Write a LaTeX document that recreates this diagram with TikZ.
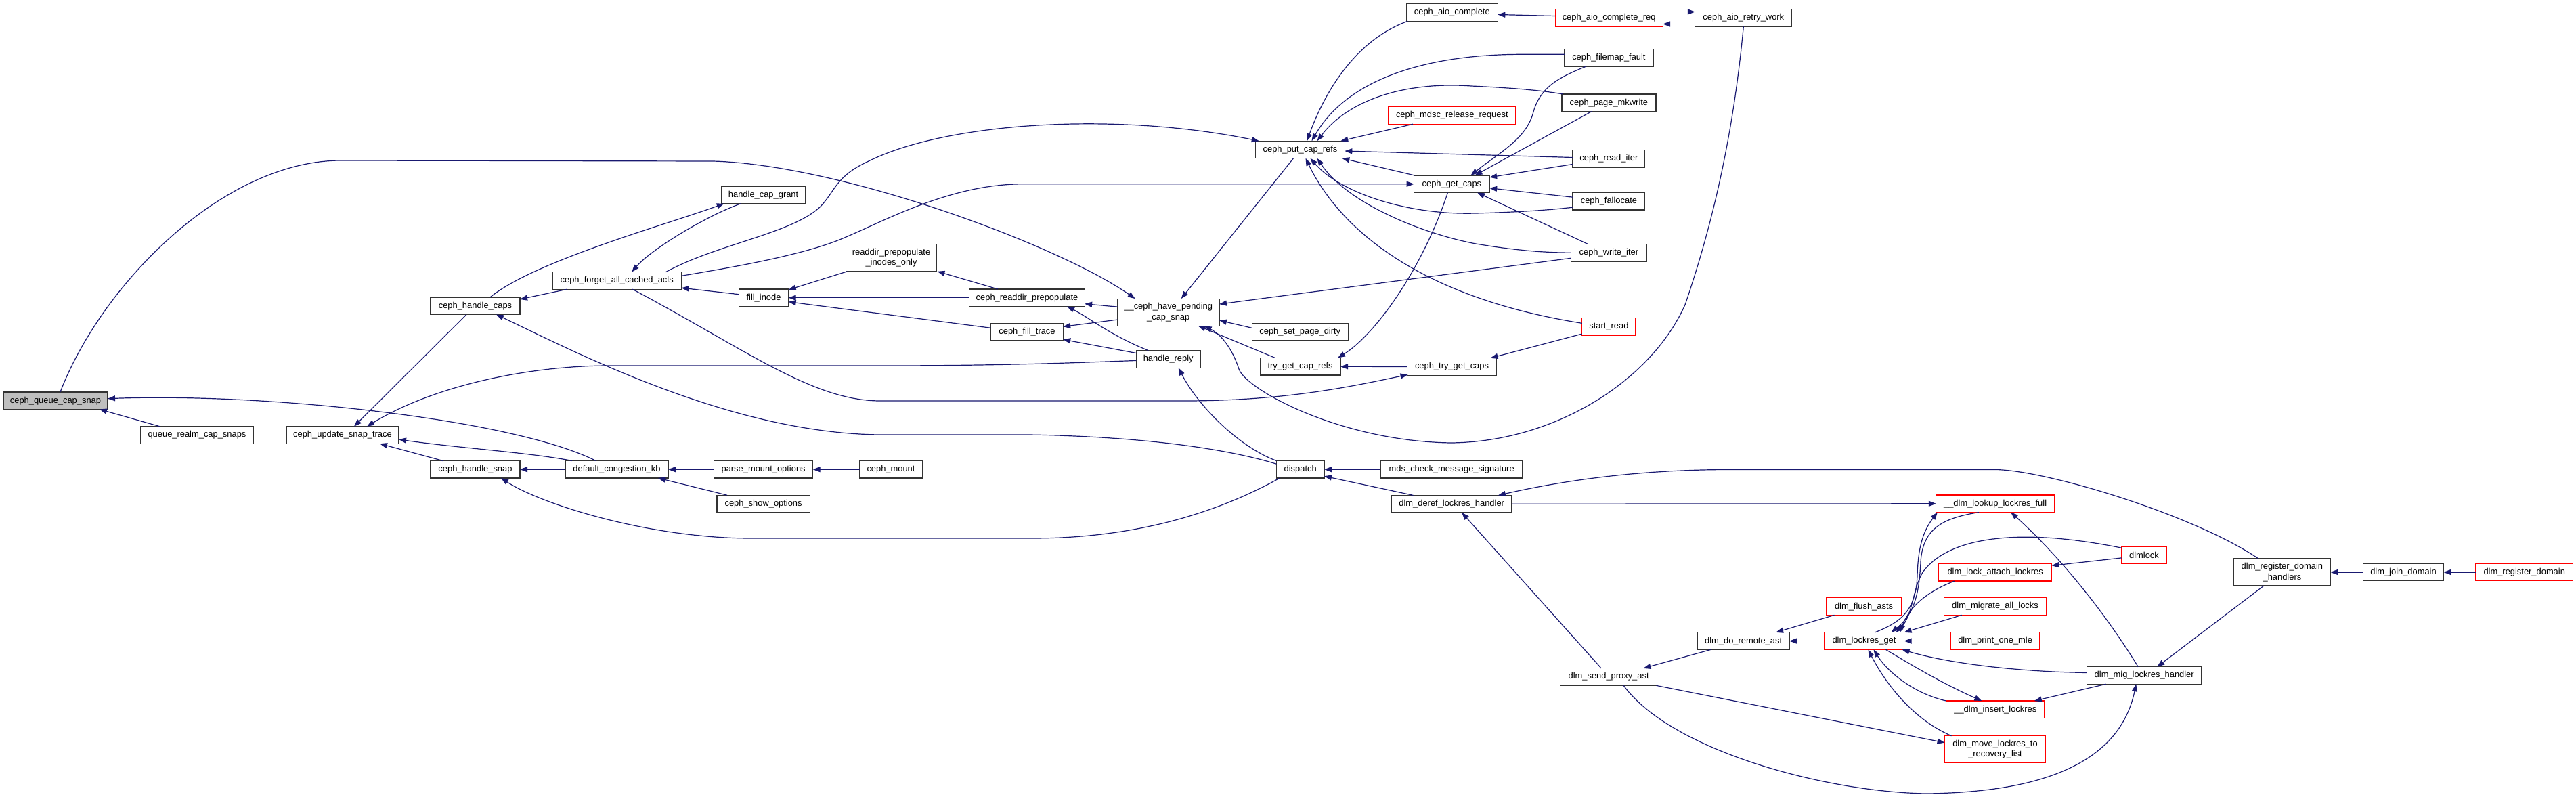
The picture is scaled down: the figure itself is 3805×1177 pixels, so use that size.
\documentclass[tikz,border=0pt]{standalone}
\usepackage{fontspec}
\setmainfont{Liberation Sans}
\usetikzlibrary{arrows.meta}
\definecolor{edgeblue}{HTML}{191970}
\definecolor{nodegray}{HTML}{BFBFBF}
\begin{document}
\begin{tikzpicture}[x=1pt,y=-1pt,
  box/.style={draw=black!80, line width=1.2pt, fill=white, rectangle, inner sep=0pt, outer sep=0pt,
    minimum height=25.5pt, align=center, font=\fontsize{12.9}{15.3}\selectfont},
  redbox/.style={box, draw=red},
  tallbox/.style={minimum height=40pt},
  e/.style={draw=edgeblue, line width=1.2pt, {Triangle[length=11pt,width=8pt]}-}]
\useasboundingbox (0,0) rectangle (3805,1177);
% ---------------- nodes ----------------
\node[box, fill=nodegray, minimum width=154pt] (qcs) at (82,591.7) {ceph\_queue\_cap\_snap};
\node[box, minimum width=166pt] (qrcs) at (291,642.5) {queue\_realm\_cap\_snaps};
\node[box, minimum width=166pt] (ust) at (506,642.5) {ceph\_update\_snap\_trace};
\node[box, minimum width=132pt] (hcaps) at (702,451.7) {ceph\_handle\_caps};
\node[box, minimum width=132pt] (hsnap) at (702,693.2) {ceph\_handle\_snap};
\node[box, minimum width=152pt] (dck) at (911,693.2) {default\_congestion\_kb};
\node[box, minimum width=190.5pt] (fac) at (911.2,414.4) {ceph\_forget\_all\_cached\_acls};
\node[box, minimum width=124pt] (hcg) at (1127.6,287.8) {handle\_cap\_grant};
\node[box, tallbox, minimum width=134pt] (rpio) at (1316.5,380.8) {readdir\_prepopulate\\\_inodes\_only};
\node[box, minimum width=73.4pt] (fill) at (1128,439.7) {fill\_inode};
\node[box, minimum width=170.3pt] (crp) at (1517,439.7) {ceph\_readdir\_prepopulate};
\node[box, minimum width=106.5pt] (cft) at (1517,490.3) {ceph\_fill\_trace};
\node[box, tallbox, minimum width=150.5pt] (chp) at (1725.7,461.1) {\_\_ceph\_have\_pending\\\_cap\_snap};
\node[box, minimum width=94.5pt] (hrep) at (1725.7,530.5) {handle\_reply};
\node[box, minimum width=93pt] (cmount) at (1316,693.2) {ceph\_mount};
\node[box, minimum width=146pt] (pmo) at (1127.6,693.2) {parse\_mount\_options};
\node[box, minimum width=137.2pt] (cso) at (1127.6,744) {ceph\_show\_options};
\node[box, minimum width=131.6pt] (pcr) at (1920.5,221) {ceph\_put\_cap\_refs};
\node[box, minimum width=142.3pt] (ssd) at (1920.3,490.3) {ceph\_set\_page\_dirty};
\node[box, minimum width=118.8pt] (tgcr) at (1920.6,541.3) {try\_get\_cap\_refs};
\node[box, minimum width=70.7pt] (disp) at (1920.7,693.2) {dispatch};
\node[box, minimum width=135pt] (aioc) at (2144.8,18.5) {ceph\_aio\_complete};
\node[redbox, minimum width=187.7pt] (mdsc) at (2144.8,170.5) {ceph\_mdsc\_release\_request};
\node[box, minimum width=111.4pt] (gcaps) at (2144.4,271.8) {ceph\_get\_caps};
\node[box, minimum width=132pt] (tgc) at (2144.5,541.5) {ceph\_try\_get\_caps};
\node[box, minimum width=209.5pt] (mcms) at (2144.2,693.2) {mds\_check\_message\_signature};
\node[box, minimum width=177.3pt] (ddl) at (2144.2,744.2) {dlm\_deref\_lockres\_handler};
\node[redbox, minimum width=159pt] (aiocr) at (2376.6,26.5) {ceph\_aio\_complete\_req};
\node[box, minimum width=131pt] (ffault) at (2376.4,85.3) {ceph\_filemap\_fault};
\node[box, minimum width=139pt] (pmk) at (2376.4,151.8) {ceph\_page\_mkwrite};
\node[box, minimum width=106.7pt] (riter) at (2376.4,234.5) {ceph\_read\_iter};
\node[box, minimum width=106.7pt] (falloc) at (2376.4,297.2) {ceph\_fallocate};
\node[box, minimum width=111.3pt] (witer) at (2376.4,373.2) {ceph\_write\_iter};
\node[redbox, minimum width=79.3pt] (sread) at (2376.4,482.3) {start\_read};
\node[box, minimum width=143pt] (aiorw) at (2575.3,26.5) {ceph\_aio\_retry\_work};
\node[box, minimum width=142.6pt] (dsp) at (2376.1,999.6) {dlm\_send\_proxy\_ast};
\node[box, minimum width=136pt] (dra) at (2575.1,946.6) {dlm\_do\_remote\_ast};
\node[redbox, minimum width=118pt] (dlg) at (2753.5,946.6) {dlm\_lockres\_get};
\node[redbox, minimum width=111pt] (dfa) at (2753,895.6) {dlm\_flush\_asts};
\node[redbox, minimum width=174.6pt] (dllf) at (2947.1,743.8) {\_\_dlm\_lookup\_lockres\_full};
\node[redbox, minimum width=166.8pt] (dlal) at (2947.1,845.3) {dlm\_lock\_attach\_lockres};
\node[redbox, minimum width=150.5pt] (dmal) at (2947,895.6) {dlm\_migrate\_all\_locks};
\node[redbox, minimum width=130.6pt] (dpom) at (2947.1,946.6) {dlm\_print\_one\_mle};
\node[redbox, minimum width=145pt] (dil) at (2947.3,1047.8) {\_\_dlm\_insert\_lockres};
\node[redbox, tallbox, minimum width=149pt] (dmlr) at (2947,1106.7) {dlm\_move\_lockres\_to\\\_recovery\_list};
\node[redbox, minimum width=66.7pt] (dlmlock) at (3167,819.9) {dlmlock};
\node[box, minimum width=169pt] (dmlh) at (3167.2,997.5) {dlm\_mig\_lockres\_handler};
\node[box, tallbox, minimum width=142.6pt] (drdh) at (3370.9,845) {dlm\_register\_domain\\\_handlers};
\node[box, minimum width=118.6pt] (djd) at (3550,845) {dlm\_join\_domain};
\node[redbox, minimum width=143.4pt] (drd) at (3728.7,845) {dlm\_register\_domain};
% ---------------- edges ----------------
\draw[e] ([shift={(65,0)}]qcs.south) -- ([shift={(-55,0)}]qrcs.north);
\draw[e] ([shift={(-49,0)}]chp.north) .. controls (1560,360) and (1240,243) .. (1053,238) -- (504,237) .. controls (330,237) and (150,420) .. ([shift={(7,0)}]qcs.north);
\draw[e] ([shift={(0,-3)}]qcs.east) .. controls (400,580) and (760,620) .. ([shift={(-31,0)}]dck.north);
\draw[e] ([shift={(36,0)}]ust.north) .. controls (640,570) and (780,540) .. (900,540) -- (1300,540) .. controls (1500,540) and (1600,535) .. ([shift={(0,2)}]hrep.west);
\draw[e] ([shift={(17,0)}]ust.north) -- ([shift={(-13,0)}]hcaps.south);
\draw[e] ([shift={(4,0)}]hcg.south west) .. controls (990,330) and (790,385) .. ([shift={(22,0)}]hcaps.north);
\draw[e] ([shift={(22,0)}]fac.north) .. controls (960,370) and (1040,320) .. ([shift={(-33,0)}]hcg.south);
\draw[e] ([shift={(0,3)}]hcaps.north east) -- ([shift={(22,0)}]fac.south west);
\draw[e] ([shift={(31,0)}]hcaps.south) .. controls (850,520) and (1080,640) .. (1300,642) -- (1520,642) .. controls (1700,645) and (1820,665) .. ([shift={(0,-8)}]disp.west);
\draw[e] (hsnap.east) -- (dck.west);
\draw[e] ([shift={(0,6.5)}]ust.east) .. controls (680,662) and (780,668) .. ([shift={(10,0)}]dck.north west);
\draw[e] ([shift={(55,0)}]ust.south) -- ([shift={(18,0)}]hsnap.north west);
\draw[e] ([shift={(38,0)}]hsnap.south) .. controls (800,745) and (960,795) .. (1110,795) -- (1524,795) .. controls (1700,795) and (1820,745) .. ([shift={(5,0)}]disp.south west);
\draw[e] (dck.east) -- (pmo.west);
\draw[e] (pmo.east) -- (cmount.west);
\draw[e] ([shift={(-15,0)}]dck.south east) -- ([shift={(15,0)}]cso.north west);
\draw[e] ([shift={(5,0)}]pcr.north west) .. controls (1650,165) and (1400,180) .. (1283,238) .. controls (1235,260) and (1235,280) .. (1212,305) .. controls (1170,345) and (1060,360) .. ([shift={(-23,0)}]fac.north east);
\draw[e] (gcaps.west) -- (1510,271.8) .. controls (1400,272) and (1300,330) .. (1240,354) .. controls (1180,378) and (1080,395) .. ([shift={(0,-7)}]fac.east);
\draw[e] ([shift={(0,-2)}]fac.south east) -- ([shift={(0,-5)}]fill.west);
\draw[e] ([shift={(0,1)}]fill.north east) -- ([shift={(2,0)}]rpio.south west);
\draw[e] (fill.east) -- (crp.west);
\draw[e] ([shift={(0,6)}]fill.east) -- ([shift={(0,-6)}]cft.west);
\draw[e] ([shift={(1,0)}]rpio.south east) -- ([shift={(42,0)}]crp.north west);
\draw[e] ([shift={(0,9)}]crp.east) -- ([shift={(0,-8)}]chp.west);
\draw[e] ([shift={(-26,0)}]crp.south east) .. controls (1610,470) and (1640,495) .. ([shift={(18,0)}]hrep.north west);
\draw[e] ([shift={(0,-8)}]cft.east) -- ([shift={(0,11)}]chp.west);
\draw[e] ([shift={(0,11)}]cft.east) -- ([shift={(0,-9)}]hrep.west);
\draw[e] ([shift={(19,0)}]chp.north) -- ([shift={(-10,0)}]pcr.south);
\draw[e] ([shift={(0,-12)}]chp.east) -- ([shift={(0,8)}]witer.west);
\draw[e] ([shift={(0,12)}]chp.east) -- ([shift={(0,-6)}]ssd.west);
\draw[e] ([shift={(44,0)}]chp.south) -- ([shift={(-37,0)}]tgcr.north);
\draw[e] ([shift={(53,0)}]chp.south) .. controls (1805,495) and (1820,515) .. (1830,545) .. controls (1840,575) and (1980,652) .. (2144,654) .. controls (2300,652) and (2440,560) .. (2489,450) .. controls (2530,330) and (2560,200) .. (aiorw.south);
\draw[e] ([shift={(10,0)}]pcr.north) .. controls (1955,140) and (2000,60) .. ([shift={(2,0)}]aioc.south west);
\draw[e] ([shift={(17,0)}]pcr.north) .. controls (1985,125) and (2090,80) .. (2250,80.3) -- ([shift={(0,-5)}]ffault.west);
\draw[e] ([shift={(25,0)}]pcr.north) .. controls (1990,150) and (2070,120) .. (2173,127) .. controls (2240,130) and (2280,134) .. ([shift={(2,0)}]pmk.north west);
\draw[e] ([shift={(-6,0)}]pcr.north east) -- ([shift={(36,0)}]mdsc.south west);
\draw[e] ([shift={(0,2)}]pcr.east) -- ([shift={(0,-2)}]riter.west);
\draw[e] ([shift={(-4,0)}]pcr.south east) -- ([shift={(1,0)}]gcaps.north west);
\draw[e] ([shift={(15,0)}]pcr.south) .. controls (1980,285) and (2080,318) .. (2180,315) .. controls (2250,313) and (2290,310) .. ([shift={(0,9)}]falloc.west);
\draw[e] ([shift={(25,0)}]pcr.south) .. controls (1990,300) and (2100,345) .. (2180,360) .. controls (2240,370) and (2280,373) .. (witer.west);
\draw[e] ([shift={(8,0)}]pcr.south) .. controls (1980,340) and (2100,440) .. ([shift={(0,-5)}]sread.west);
\draw[e] ([shift={(0,3)}]aioc.east) -- ([shift={(0,-3)}]aiocr.west);
\draw[e] ([shift={(0,-9)}]aiorw.west) -- ([shift={(0,-9)}]aiocr.east);
\draw[e] ([shift={(0,9)}]aiocr.east) -- ([shift={(0,9)}]aiorw.west);
\draw[e] ([shift={(28,0)}]gcaps.north) .. controls (2215,225) and (2255,205) .. (2265,165) .. controls (2275,130) and (2300,115) .. ([shift={(32,0)}]ffault.south west);
\draw[e] ([shift={(34,0)}]gcaps.north) -- ([shift={(44,0)}]pmk.south west);
\draw[e] ([shift={(0,-10)}]gcaps.east) -- ([shift={(0,8)}]riter.west);
\draw[e] ([shift={(0,6)}]gcaps.east) -- ([shift={(0,-6)}]falloc.west);
\draw[e] ([shift={(-18,0)}]gcaps.south east) -- ([shift={(-31,0)}]witer.north);
\draw[e] ([shift={(-4,0)}]tgcr.north east) .. controls (2030,495) and (2100,400) .. ([shift={(-6,0)}]gcaps.south);
\draw[e] (tgcr.east) -- (tgc.west);
\draw[e] ([shift={(1,-1)}]tgc.south west) .. controls (2000,570) and (1900,592) .. (1750,592) -- (1300,592) .. controls (1200,592) and (1100,515) .. ([shift={(23,0)}]fac.south);
\draw[e] ([shift={(-9,0)}]tgc.north east) -- ([shift={(0,-2)}]sread.south west);
\draw[e] ([shift={(15,0)}]hrep.south) .. controls (1770,600) and (1830,660) .. (disp.north west);
\draw[e] (disp.east) -- (mcms.west);
\draw[e] ([shift={(0,10)}]disp.east) -- ([shift={(32,0)}]ddl.north west);
\draw[e] ([shift={(-20,0)}]ddl.north east) .. controls (2330,705) and (2440,693.5) .. (2556,693.5) -- (2946,693.5) .. controls (3020,693.5) and (3240,760) .. ([shift={(-35,0)}]drdh.north);
\draw[e] (dllf.west) -- (ddl.east);
\draw[e] ([shift={(15,0)}]ddl.south) -- ([shift={(-11,0)}]dsp.north);
\draw[e] ([shift={(-20,0)}]dsp.north east) -- ([shift={(20,0)}]dra.south west);
\draw[e] ([shift={(-20,0)}]dra.north east) -- ([shift={(12,0)}]dfa.south west);
\draw[e] (dra.east) -- (dlg.west);
\draw[e] (dlg.east) -- (dpom.west);
\draw[e] (dlg.north east) -- ([shift={(26,0)}]dmal.south west);
\draw[e] ([shift={(-6,0)}]dlg.north east) .. controls (2815,910) and (2830,880) .. ([shift={(23,0)}]dlal.south west);
\draw[e] ([shift={(40,0)}]dlg.north) .. controls (2830,905) and (2835,870) .. (2837,830) .. controls (2840,780) and (2870,765) .. ([shift={(-24,0)}]dllf.south);
\draw[e] ([shift={(2,0)}]dllf.south west) .. controls (2840,785) and (2833,810) .. (2832,850) .. controls (2830,900) and (2810,918) .. ([shift={(16,0)}]dlg.north);
\draw[e] ([shift={(-12,0)}]dlg.north east) .. controls (2825,910) and (2825,870) .. (2840,845) .. controls (2880,790) and (2990,780) .. ([shift={(0,2)}]dlmlock.north west);
\draw[e] ([shift={(0,-10)}]dlal.east) -- ([shift={(0,4)}]dlmlock.west);
\draw[e] ([shift={(23,0)}]dllf.south) .. controls (3030,810) and (3100,890) .. ([shift={(-9,0)}]dmlh.north);
\draw[e] ([shift={(-3,0)}]dlg.south east) .. controls (2880,980) and (2980,992) .. ([shift={(0,-4)}]dmlh.west);
\draw[e] ([shift={(14,0)}]dlg.south) .. controls (2790,995) and (2830,1025) .. (dil.north west);
\draw[e] ([shift={(-20,0)}]dil.north) .. controls (2870,1010) and (2820,980) .. ([shift={(32,0)}]dlg.south);
\draw[e] ([shift={(6,0)}]dlg.south) .. controls (2780,1000) and (2820,1060) .. ([shift={(10,0)}]dmlr.north west);
\draw[e] ([shift={(-15,0)}]dil.north east) -- ([shift={(28,0)}]dmlh.south west);
\draw[e] ([shift={(19,0)}]dmlh.north) -- ([shift={(-27,0)}]drdh.south);
\draw[e] ([shift={(-12,0)}]dmlh.south) .. controls (3130,1130) and (3010,1170) .. (2846,1172) .. controls (2700,1170) and (2470,1110) .. ([shift={(22,0)}]dsp.south);
\draw[e] ([shift={(0,-10)}]dmlr.west) -- ([shift={(-1,0)}]dsp.south east);
\draw[e] (drdh.east) -- (djd.west);
\draw[e] (djd.east) -- (drd.west);
\end{tikzpicture}
\end{document}
